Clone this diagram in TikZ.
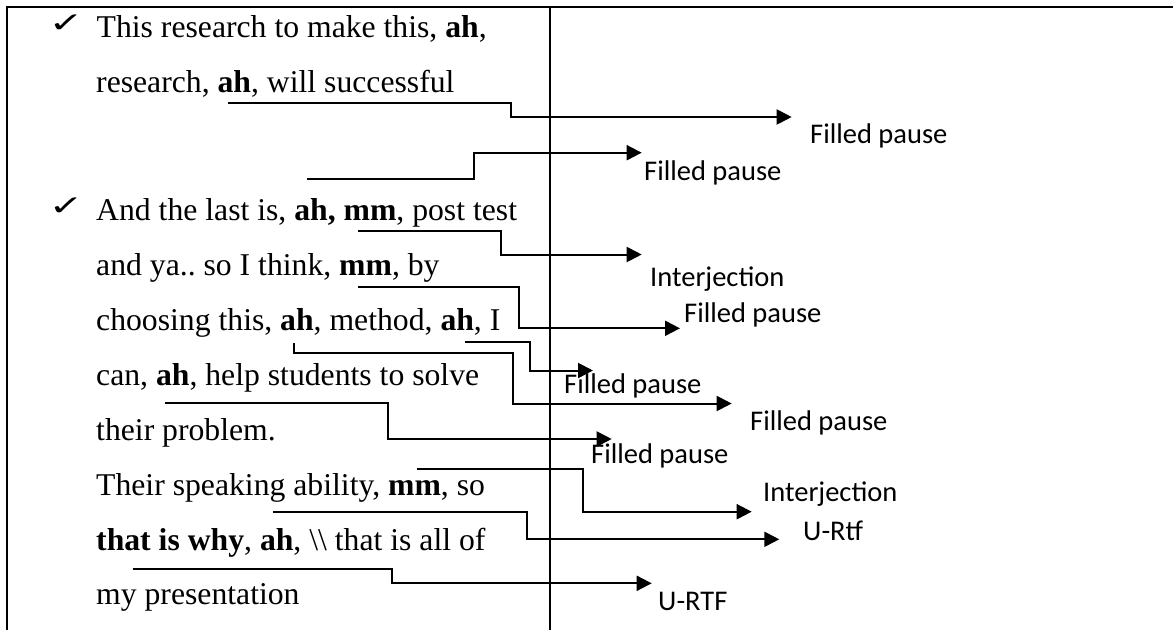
\documentclass[tikz,border=0pt]{standalone}
\usepackage{fontspec}
\setmainfont{Liberation Serif}
\newfontfamily\labelfont{Carlito}
\newfontfamily\symfont{DejaVu Sans}
\usetikzlibrary{arrows.meta}
\frenchspacing
\begin{document}
\begin{tikzpicture}[x=1pt,y=-1pt,
  txt/.style={anchor=base west,inner sep=0pt,font=\fontsize{31.7}{38}\selectfont},
  lbl/.style={anchor=base west,inner sep=0pt,font=\labelfont\fontsize{28.5}{34}\selectfont},
  tick/.style={anchor=base west,inner sep=0pt,font=\symfont\fontsize{28}{32}\selectfont},
  conn/.style={line width=2pt,-{Triangle[length=15pt,width=15pt]}},
  rulebox/.style={line width=2.3pt}]
\useasboundingbox (0,0) rectangle (1173,630);

% table frame and column divider
\draw[rulebox] (6.7,630) -- (6.7,6.7) -- (1173,6.7);
\draw[rulebox] (550,6.7) -- (550,630);

% transcript, left column
\node[tick] (k1) at (48.5,32) {\scalebox{1.5}[1]{✓}};
\node[tick] (k2) at (48.5,215) {\scalebox{1.5}[1]{✓}};
\node[txt] (t1) at (96.5,37) {This research to make this, \textbf{ah},};
\node[txt] (t2) at (96,92) {research, \textbf{ah}, will successful};
\node[txt] (t3) at (96,220) {And the last is, \textbf{ah, mm}, post test};
\node[txt] (t4) at (96,275) {and ya.. so I think, \textbf{mm}, by};
\node[txt] (t5) at (96,330) {choosing this, \textbf{ah}, method, \textbf{ah}, I};
\node[txt] (t6) at (96,385) {can, \textbf{ah}, help students to solve};
\node[txt] (t7) at (96,440) {their problem.};
\node[txt] (t8) at (96,495) {Their speaking ability, \textbf{mm}, so};
\node[txt] (t9) at (96,550) {\textbf{that is why}, \textbf{ah}, \textbackslash\textbackslash{} that is all of};
\node[txt] (t10) at (96,604) {my presentation};

% category labels, right column
\node[lbl] (l1) at (810,143.4) {Filled pause};
\node[lbl] (l2) at (644,180) {Filled pause};
\node[lbl] (l3) at (650,286.7) {Interjection};
\node[lbl] (l4) at (684,322.4) {Filled pause};
\node[lbl] (l5) at (564,393.4) {Filled pause};
\node[lbl] (l6) at (750,430) {Filled pause};
\node[lbl] (l7) at (591,463.4) {Filled pause};
\node[lbl] (l8) at (763,501.7) {Interjection};
\node[lbl] (l9) at (803,540) {U-Rtf};
\node[lbl] (l10) at (658,610) {U-RTF};

% connector start points (under the marked words) and arrow ends
\coordinate (s1) at (228,103.3);   \coordinate (e1) at (791.7,117);
\coordinate (s2) at (307,179);     \coordinate (e2) at (641.7,152.7);
\coordinate (s3) at (358,231);     \coordinate (e3) at (641.7,254.5);
\coordinate (s4) at (358,287.3);   \coordinate (e4) at (680,328.3);
\coordinate (s5) at (465,341.7);   \coordinate (e5) at (593,370.5);
\coordinate (s6) at (294.3,343.3); \coordinate (e6) at (731.7,403.5);
\coordinate (s7) at (165,403.3);   \coordinate (e7) at (611.7,439);
\coordinate (s8) at (416.7,469.3); \coordinate (e8) at (751.7,511.7);
\coordinate (s9) at (273.3,511.7); \coordinate (e9) at (779.3,539.3);
\coordinate (s10) at (132.7,569);  \coordinate (e10) at (651.7,583.3);

% stepped connectors
\draw[conn] (s1) -| (510.5,0 |- e1) -- (e1);
\draw[conn] (s2) -| (474,0 |- e2) -- (e2);
\draw[conn] (s3) -| (501,0 |- e3) -- (e3);
\draw[conn] (s4) -| (519,0 |- e4) -- (e4);
\draw[conn] (s5) -| (530,0 |- e5) -- (e5);
\draw[conn] (s6) |- (513,353.3) -- (513,0 |- e6) -- (e6);
\draw[conn] (s7) -| (388,0 |- e7) -- (e7);
\draw[conn] (s8) -| (583.3,0 |- e8) -- (e8);
\draw[conn] (s9) -| (527.3,0 |- e9) -- (e9);
\draw[conn] (s10) -| (391.7,0 |- e10) -- (e10);
\end{tikzpicture}
\end{document}
